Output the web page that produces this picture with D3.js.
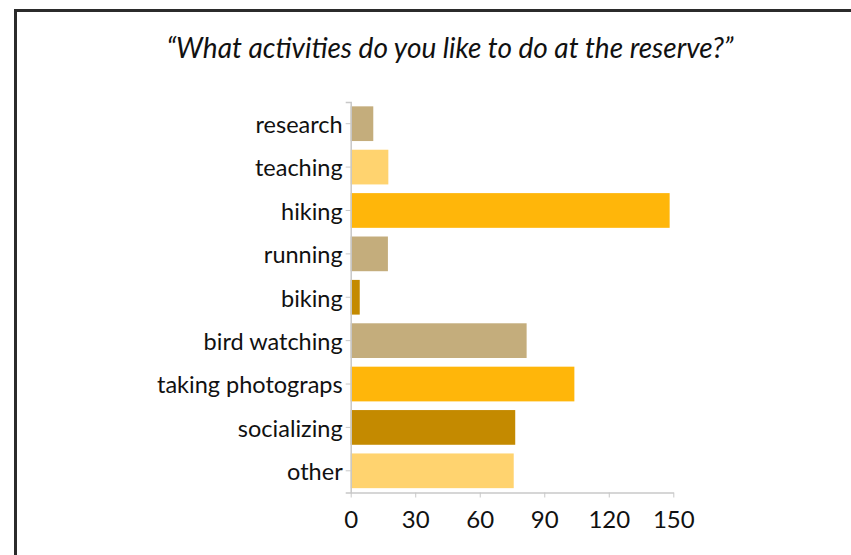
<!DOCTYPE html>
<html><head><meta charset="utf-8">
<script src="https://cdn.jsdelivr.net/npm/d3@7"></script>
<style>
html,body{margin:0;padding:0;background:#fff;}
svg{display:block;}
</style></head>
<body>
<svg id="chart" width="851" height="555"></svg>
<script>
const categories = ["research","teaching","hiking","running","biking","bird watching","taking photograps","socializing","other"];
const values = [10.5, 17.5, 148.3, 17.3, 4.2, 81.8, 104, 76.5, 75.8];
const barColors = ["#c4ad7c","#ffd36f","#ffb60a","#c4ad7c","#c48a00","#c4ad7c","#ffb60a","#c48a00","#ffd36f"];
const tickValues = [0,30,60,90,120,150];
const title = "\u201CWhat activities do you like to do at the reserve?\u201D";

const svg = d3.select("#chart");
const font = "'Lato','Open Sans',sans-serif";

// frame
svg.append("rect").attr("x",15.5).attr("y",10.5).attr("width",851).attr("height",560)
  .attr("fill","none").attr("stroke","#2b2b2b").attr("stroke-width",3);

svg.append("text").attr("x",450).attr("y",58).attr("text-anchor","middle")
  .attr("font-family",font).attr("font-style","italic").attr("font-size",28).attr("fill","#111")
  .text(title);

const x = d3.scaleLinear().domain([0,150]).range([350.7,673.3]);
const y = d3.scaleBand().domain(categories).range([102,492.5]).paddingInner(0.2).paddingOuter(0.1);

svg.append("g").selectAll("rect").data(categories).join("rect")
  .attr("x", x(0)).attr("y", d=>y(d))
  .attr("width", (d,i)=>x(values[i])-x(0)).attr("height", y.bandwidth())
  .attr("fill",(d,i)=>barColors[i]);

const yAxis = svg.append("g").attr("transform",`translate(${x(0)},0)`)
  .call(d3.axisLeft(y).tickSize(5).tickPadding(3));
yAxis.select(".domain").attr("stroke","#c8c8c8").attr("stroke-width",1.5);
yAxis.selectAll(".tick line").attr("stroke","#c8c8c8");
yAxis.selectAll(".tick text").attr("font-family",font).attr("font-size",23.5).attr("fill","#111").attr("dy","0.4em");

const xAxis = svg.append("g").attr("transform",`translate(0,492.5)`)
  .call(d3.axisBottom(x).tickValues(tickValues).tickSize(5).tickPadding(13).tickSizeOuter(0));
xAxis.select(".domain").attr("stroke","#c8c8c8").attr("stroke-width",1.5);
xAxis.selectAll(".tick line").attr("stroke","#c8c8c8");
xAxis.selectAll(".tick text").attr("font-family",font).attr("font-size",24).attr("fill","#111");
</script>
</body></html>
